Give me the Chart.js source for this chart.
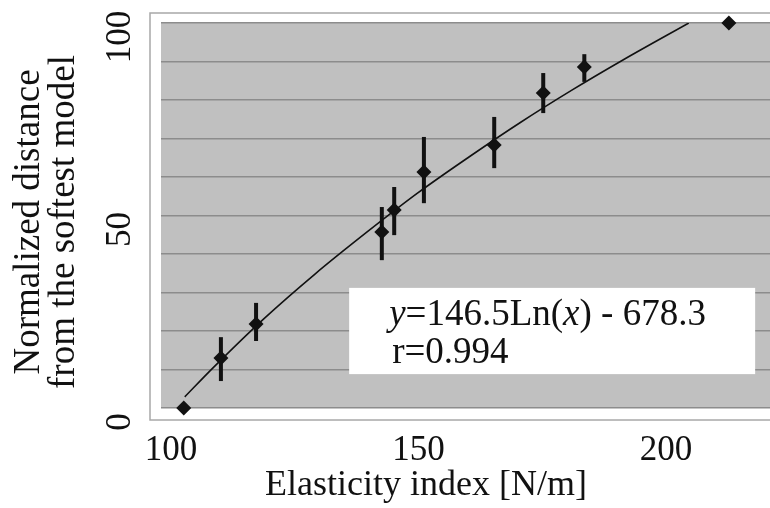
<!DOCTYPE html>
<html>
<head>
<meta charset="utf-8">
<script src="https://cdn.jsdelivr.net/npm/chart.js@4/dist/chart.umd.min.js"></script>
<style>
  html, body { margin: 0; padding: 0; background: #fff; overflow: hidden; }
  #wrap { width: 770px; height: 508px; }
</style>
</head>
<body>
<div id="wrap"><canvas id="chart" width="770" height="508"></canvas></div>
<script>
// measured points (elasticity index vs normalized distance)
const elasticity = [102.6, 110.1, 117.2, 142.6, 145.1, 151.1, 165.3, 175.2, 183.5, 212.7];
const distance   = [0, 13.0, 21.8, 45.7, 51.4, 61.3, 68.3, 81.8, 88.6, 100];
const errLow     = [null, 7.0, 17.4, 38.4, 44.9, 53.2, 62.3, 76.6, 84.7, null];
const errHigh    = [null, 18.4, 27.3, 52.2, 57.4, 70.4, 75.6, 87.0, 91.9, null];

// log trend line
const fitX = [102.8, 108.4, 118.7, 129.1, 139.5, 149.8, 160.2, 170.5, 180.9, 191.3, 204.6];
const fitY = [2.9, 10.3, 23.1, 34.8, 45.6, 55.8, 65.2, 74.1, 82.5, 90.4, 100];

const xTicks = [100, 150, 200];
const yLabels = [0, 50, 100];
const eqParts = [['y', true], ['=146.5Ln(', false], ['x', true], [') - 678.3', false]];
const rText = 'r=0.994';
const xTitle = 'Elasticity index [N/m]';
const yTitle = ['Normalized distance', 'from the softest model'];

const serif = '"Liberation Serif", "Times New Roman", serif';
const ink = '#111';

const decor = {
  id: 'decor',
  beforeDraw(chart) {
    const { ctx, chartArea: a } = chart;
    ctx.save();
    // outer frame
    ctx.strokeStyle = '#a8a8a8';
    ctx.lineWidth = 1.5;
    ctx.strokeRect(a.left - 11, a.top - 10, a.right - a.left + 40, a.bottom - a.top + 22);
    // grey plot area
    ctx.fillStyle = '#c0c0c0';
    ctx.fillRect(a.left, a.top, a.right - a.left, a.bottom - a.top);
    ctx.restore();
  },
  beforeDatasetsDraw(chart) {
    const { ctx } = chart;
    const xs = chart.scales.x, ys = chart.scales.y;
    ctx.save();
    ctx.strokeStyle = ink;
    ctx.lineWidth = 4;
    elasticity.forEach((e, i) => {
      if (errLow[i] == null) return;
      const px = xs.getPixelForValue(e);
      ctx.beginPath();
      ctx.moveTo(px, ys.getPixelForValue(errLow[i]));
      ctx.lineTo(px, ys.getPixelForValue(errHigh[i]));
      ctx.stroke();
    });
    ctx.restore();
  },
  afterDraw(chart) {
    const { ctx, chartArea: a } = chart;
    const xs = chart.scales.x, ys = chart.scales.y;
    ctx.save();
    // equation box
    const bl = xs.getPixelForValue(136), br = xs.getPixelForValue(218);
    const bt = ys.getPixelForValue(31.2), bb = ys.getPixelForValue(8.8);
    ctx.fillStyle = '#fff';
    ctx.fillRect(bl, bt, br - bl, bb - bt);
    ctx.fillStyle = ink;
    ctx.textBaseline = 'alphabetic';
    ctx.textAlign = 'left';
    let tx = bl + 40;
    eqParts.forEach(([s, it]) => {
      ctx.font = (it ? 'italic ' : '') + '37px ' + serif;
      ctx.fillText(s, tx, bt + 37);
      tx += ctx.measureText(s).width;
    });
    ctx.font = '37px ' + serif;
    ctx.fillText(rText, bl + 43, bt + 75);

    // axis titles
    ctx.font = '36px ' + serif;
    ctx.textAlign = 'center';
    ctx.fillText(xTitle, a.left + 265, a.bottom + 87);
    ctx.font = '37px ' + serif;
    ctx.textBaseline = 'middle';
    ctx.translate(0, 222);
    ctx.rotate(-Math.PI / 2);
    ctx.fillText(yTitle[0], 0, 29);
    ctx.fillText(yTitle[1], 0, 64);
    ctx.restore();
  }
};

new Chart(document.getElementById('chart'), {
  type: 'scatter',
  data: {
    datasets: [
      {
        label: 'fit',
        data: fitX.map((x, i) => ({ x: x, y: fitY[i] })),
        showLine: true,
        borderColor: ink,
        borderWidth: 1.6,
        pointRadius: 0,
        cubicInterpolationMode: 'monotone',
        fill: false
      },
      {
        label: 'models',
        data: elasticity.map((x, i) => ({ x: x, y: distance[i] })),
        pointStyle: 'rectRot',
        pointRadius: 7.5,
        backgroundColor: ink,
        borderColor: ink,
        borderWidth: 0,
        clip: false
      }
    ]
  },
  options: {
    responsive: false,
    animation: false,
    devicePixelRatio: 1,
    layout: { autoPadding: false, padding: { top: 23, right: 0, left: 0, bottom: 0 } },
    plugins: { legend: { display: false }, tooltip: { enabled: false } },
    scales: {
      x: {
        type: 'linear',
        min: 98,
        max: 221,
        afterBuildTicks: s => { s.ticks = xTicks.map(v => ({ value: v })); },
        afterFit: s => { s.height = 100; s.paddingLeft = 0; s.paddingRight = 0; },
        grid: { display: false },
        border: { display: false },
        ticks: { font: { family: serif, size: 35 }, color: ink, padding: 14, maxRotation: 0 }
      },
      y: {
        min: 0,
        max: 100,
        afterFit: s => { s.width = 161; s.paddingTop = 0; s.paddingBottom = 0; },
        grid: { color: '#8c8c8c', lineWidth: 1.5, drawTicks: false },
        border: { display: false },
        ticks: {
          stepSize: 10,
          autoSkip: false,
          callback: v => yLabels.includes(v) ? String(v) : '',
          minRotation: 90,
          maxRotation: 90,
          crossAlign: 'center',
          labelOffset: 14,
          padding: 14,
          font: { family: serif, size: 35 },
          color: ink
        }
      }
    }
  },
  plugins: [decor]
});
</script>
</body>
</html>
